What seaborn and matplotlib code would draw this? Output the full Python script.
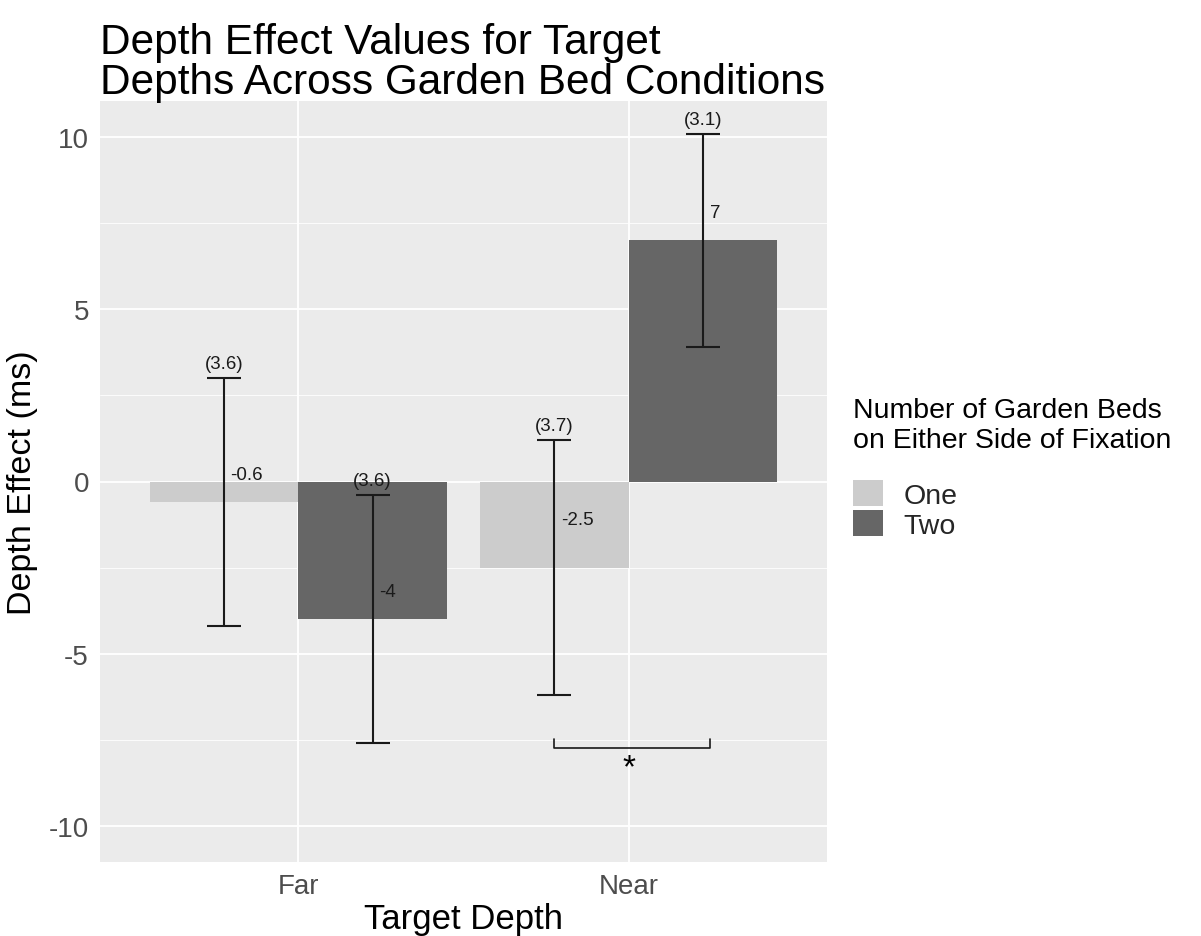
import matplotlib
matplotlib.use("Agg")
import matplotlib.pyplot as plt
import seaborn as sns
import pandas as pd
import numpy as np
from matplotlib.patches import Patch
from matplotlib.ticker import MultipleLocator

depths = ["Far", "Near"]
beds = ["One", "Two"]
means_one = [-0.6, -2.5]
means_two = [-4.0, 7.0]
se_one = [3.6, 3.7]
se_two = [3.6, 3.1]
colors = {"One": "#CCCCCC", "Two": "#666666"}

df = pd.DataFrame({
    "depth": depths + depths,
    "beds": ["One"] * 2 + ["Two"] * 2,
    "mean": means_one + means_two,
    "se": se_one + se_two,
})

sns.set_theme(style="darkgrid")
plt.rcParams["font.family"] = ["Liberation Sans", "DejaVu Sans"]

fig = plt.figure(figsize=(12.01, 9.37), dpi=100)
ax = fig.add_axes([100 / 1201, 1 - 863 / 937, 727 / 1201, 761 / 937])
ax.set_facecolor("#EBEBEB")

sns.barplot(data=df, x="depth", y="mean", hue="beds", order=depths,
            hue_order=beds, palette=colors, width=0.9, errorbar=None,
            saturation=1, ax=ax, legend=False, linewidth=0)

ax.set_xlim(-0.6, 1.6)
ax.set_ylim(-11.05, 11.05)
ax.yaxis.set_major_locator(MultipleLocator(5))
ax.yaxis.set_minor_locator(MultipleLocator(2.5))
ax.grid(which="major", color="white", linewidth=1.3)
ax.grid(which="minor", axis="y", color="white", linewidth=0.6)
ax.set_axisbelow(True)
for s in ax.spines.values():
    s.set_visible(False)

label_offsets = [0.8, 1.4, 0.8, 0.8]
centers = {}
for i, (d, b) in enumerate(zip(df["depth"], df["beds"])):
    xi = depths.index(d) + (-0.225 if b == "One" else 0.225)
    centers[(d, b)] = xi
    m, e = df["mean"][i], df["se"][i]
    ax.errorbar(xi, m, yerr=e, fmt="none", ecolor="#1a1a1a", elinewidth=1.5,
                capsize=12, capthick=1.5, zorder=4)
    ax.text(xi, m + e + 0.18, f"({e:.1f})", ha="center", va="bottom",
            fontsize=13.5, color="#1a1a1a", zorder=5)
    ax.text(xi + 0.02, m + label_offsets[i], f"{m:g}", ha="left",
            va="center", fontsize=13.5, color="#1a1a1a", zorder=5)

# significance bracket
x0 = centers[("Near", "One")]
x1 = centers[("Near", "Two")] + 0.02
yb = -7.75
ax.plot([x0, x0, x1, x1], [yb + 0.27, yb, yb, yb + 0.27], color="#1a1a1a",
        linewidth=1.2, zorder=5)
ax.text(depths.index("Near"), yb - 0.1, "*", ha="center", va="top",
        fontsize=24, color="black", zorder=5)

ax.tick_params(axis="both", labelsize=20, colors="#4d4d4d", length=4,
               width=1, pad=3)
ax.tick_params(axis="both", which="major", length=5, color="#333333")
ax.tick_params(axis="y", which="minor", length=0)
ax.set_yticks([-10, -5, 0, 5, 10])
ax.set_yticklabels(["-10", "-5", "0", "5", "10"])
ax.set_xlabel("Target Depth", fontsize=25, color="black", labelpad=2)
ax.set_ylabel("Depth Effect (ms)", fontsize=24.5, color="black", labelpad=8)

fig.text(100 / 1201, 1 - 23 / 937,
         "Depth Effect Values for Target\nDepths Across Garden Bed Conditions",
         fontsize=30.5, ha="left", va="top", color="black", linespacing=1.0)

# legend: title as text, keys below
fig.text(853 / 1201, 1 - 398 / 937,
         "Number of Garden Beds\non Either Side of Fixation",
         fontsize=20.5, ha="left", va="top", color="black", linespacing=1.2)
handles = [Patch(facecolor=colors[b], edgecolor="none", label=b) for b in beds]
leg = fig.legend(handles=handles, loc="upper left",
                 bbox_to_anchor=(827 / 1201, 1 - 455 / 937),
                 frameon=False, fontsize=20.5,
                 handlelength=1.05, handleheight=1.05, handletextpad=0.75,
                 labelspacing=0.05)

fig.savefig("out.png", dpi=100)
